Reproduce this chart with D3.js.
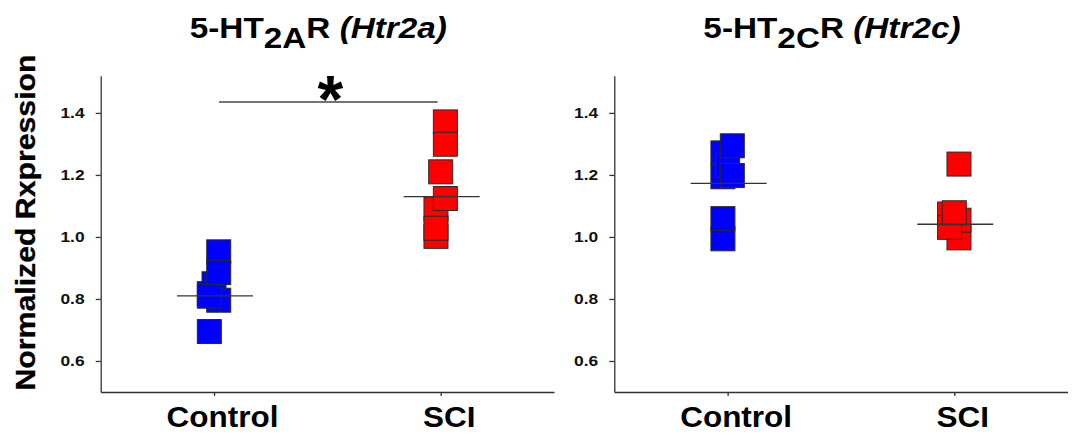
<!DOCTYPE html>
<html>
<head>
<meta charset="utf-8">
<script src="https://cdn.jsdelivr.net/npm/d3@7"></script>
<style>
  body { margin: 0; background: #fff; }
  svg { display: block; font-family: "Liberation Sans", Arial, sans-serif; font-weight: bold; }
</style>
</head>
<body>
<div id="chart"></div>
<script>
// panels and groups
let receptors = ["2A", "2C"];
let genes = ["Htr2a", "Htr2c"];
let groups = ["Control", "SCI"];
let yTicks = [0.6, 0.8, 1.0, 1.2, 1.4];

// points in drawing order, slot = side-by-side jitter column (-1, 0, 1)
let htr2aControl = [0.849, 0.796, 0.817, 0.809, 0.952, 0.885, 0.695];
let htr2aControlSlot = [0, 1, -1, -1, 1, 1, -1];
let htr2aSCI = [1.002, 1.090, 1.028, 1.124, 1.210, 1.371, 1.299];
let htr2aSCISlot = [-1, -1, -1, 1, 0, 1, 1];
let htr2cControl = [1.271, 1.194, 1.23, 1.294, 1.198, 0.994, 1.059];
let htr2cControlSlot = [-1, -1, 0, 1, 1, -1, -1];
let htr2cSCI = [0.997, 1.054, 1.074, 1.031, 1.078, 1.235];
let htr2cSCISlot = [1, 1, -1, -1, 0, 1];

// horizontal centre lines
let htr2aCentre = [0.81, 1.13];
let htr2cCentre = [1.173, 1.041];

// significance marks per panel
let sigLabels = ["*", ""];

let colors = { Control: "#0000ff", SCI: "#ff0000" };

let panelData = [
  {
    values: [htr2aControl, htr2aSCI],
    slots: [htr2aControlSlot, htr2aSCISlot],
    centre: htr2aCentre
  },
  {
    values: [htr2cControl, htr2cSCI],
    slots: [htr2cControlSlot, htr2cSCISlot],
    centre: htr2cCentre
  }
];

let width = 1075;
let height = 435;
let panelLeft = [100.7, 614.3];
let panelW = 453.3;
let plotTop = 75.7;
let plotBottom = 392;
let box = 24;

let svg = d3
  .select("#chart")
  .append("svg")
  .attr("width", width)
  .attr("height", height);

let y = d3.scaleLinear().domain([0.5, 1.52]).range([plotBottom, plotTop]);
let x = d3.scalePoint().domain(groups).range([0, panelW]).padding(0.5);
let jitter = d3.scaleLinear().domain([-1, 1]).range([-4.7, 4.7]);

// y axis title
svg
  .append("g")
  .attr("transform", "translate(35,222.5) rotate(-90) scale(1.1,1)")
  .append("text")
  .attr("text-anchor", "middle")
  .attr("font-size", 27.5)
  .attr("fill", "#000")
  .attr("stroke", "#000")
  .attr("stroke-width", 0.3)
  .text("Normalized Rxpression");

panelData.forEach((p, i) => {
  let g = svg.append("g").attr("transform", `translate(${panelLeft[i]},0)`);

  // title
  let title = g
    .append("g")
    .attr("transform", `translate(${panelW / 2 - 9},38.3) scale(1.11,1)`)
    .append("text")
    .attr("text-anchor", "middle")
    .attr("font-size", 30)
    .attr("fill", "#000");
  title.append("tspan").text("5-HT");
  title.append("tspan").attr("dy", 10).text(receptors[i]);
  title.append("tspan").attr("dy", -10).text("R ");
  title.append("tspan").attr("font-style", "italic").text(`(${genes[i]})`);

  // axes
  let ya = g
    .append("g")
    .call(
      d3.axisLeft(y)
        .tickValues(yTicks)
        .tickFormat(d3.format(".1f"))
        .tickSize(5)
        .tickSizeOuter(0)
        .tickPadding(8)
    );
  ya.selectAll("path, line").attr("stroke", "#333").attr("stroke-width", 1.3);
  ya.selectAll("text")
    .attr("font-size", 15.5)
    .attr("fill", "#111")
    .attr("transform", function () {
      let tx = +d3.select(this).attr("x");
      return `translate(${tx * 0.12},0) scale(1.12,1)`;
    });
  ya.attr("font-family", null);

  let xa = g
    .append("g")
    .attr("transform", `translate(0,${plotBottom})`)
    .call(d3.axisBottom(x).tickSize(4).tickSizeOuter(0).tickFormat(""));
  xa.selectAll("path, line").attr("stroke", "#333").attr("stroke-width", 1.3);

  g.selectAll(".xlabel")
    .data(groups)
    .join("g")
    .attr("class", "xlabel")
    .attr("transform", d => `translate(${x(d) + 8.5},427) scale(1.05,1)`)
    .append("text")
    .attr("text-anchor", "middle")
    .attr("font-size", 30)
    .attr("fill", "#000")
    .text(d => d);

  // points
  groups.forEach((grp, gi) => {
    g.append("g")
      .selectAll("rect")
      .data(p.values[gi])
      .join("rect")
      .attr("x", (d, k) => x(grp) + jitter(p.slots[gi][k]) - box / 2)
      .attr("y", d => y(d) - box / 2)
      .attr("width", box)
      .attr("height", box)
      .attr("fill", colors[grp])
      .attr("stroke", "#2a2a2a")
      .attr("stroke-width", 1);
  });

  // centre lines
  g.append("g")
    .selectAll("line")
    .data(groups)
    .join("line")
    .attr("x1", d => x(d) + 1 - 38)
    .attr("x2", d => x(d) + 1 + 38)
    .attr("y1", (d, gi) => y(p.centre[gi]))
    .attr("y2", (d, gi) => y(p.centre[gi]))
    .attr("stroke", "#333")
    .attr("stroke-width", 1.3);

  // significance
  if (sigLabels[i]) {
    g.append("line")
      .attr("x1", x(groups[0]) + 5)
      .attr("x2", x(groups[1]) - 3)
      .attr("y1", 102)
      .attr("y2", 102)
      .attr("stroke", "#444")
      .attr("stroke-width", 1.3);
    g.append("text")
      .attr("x", (x(groups[0]) + x(groups[1])) / 2 + 3)
      .attr("y", 122)
      .attr("text-anchor", "middle")
      .attr("font-size", 66)
      .attr("fill", "#000")
      .text(sigLabels[i]);
  }
});
</script>
</body>
</html>
